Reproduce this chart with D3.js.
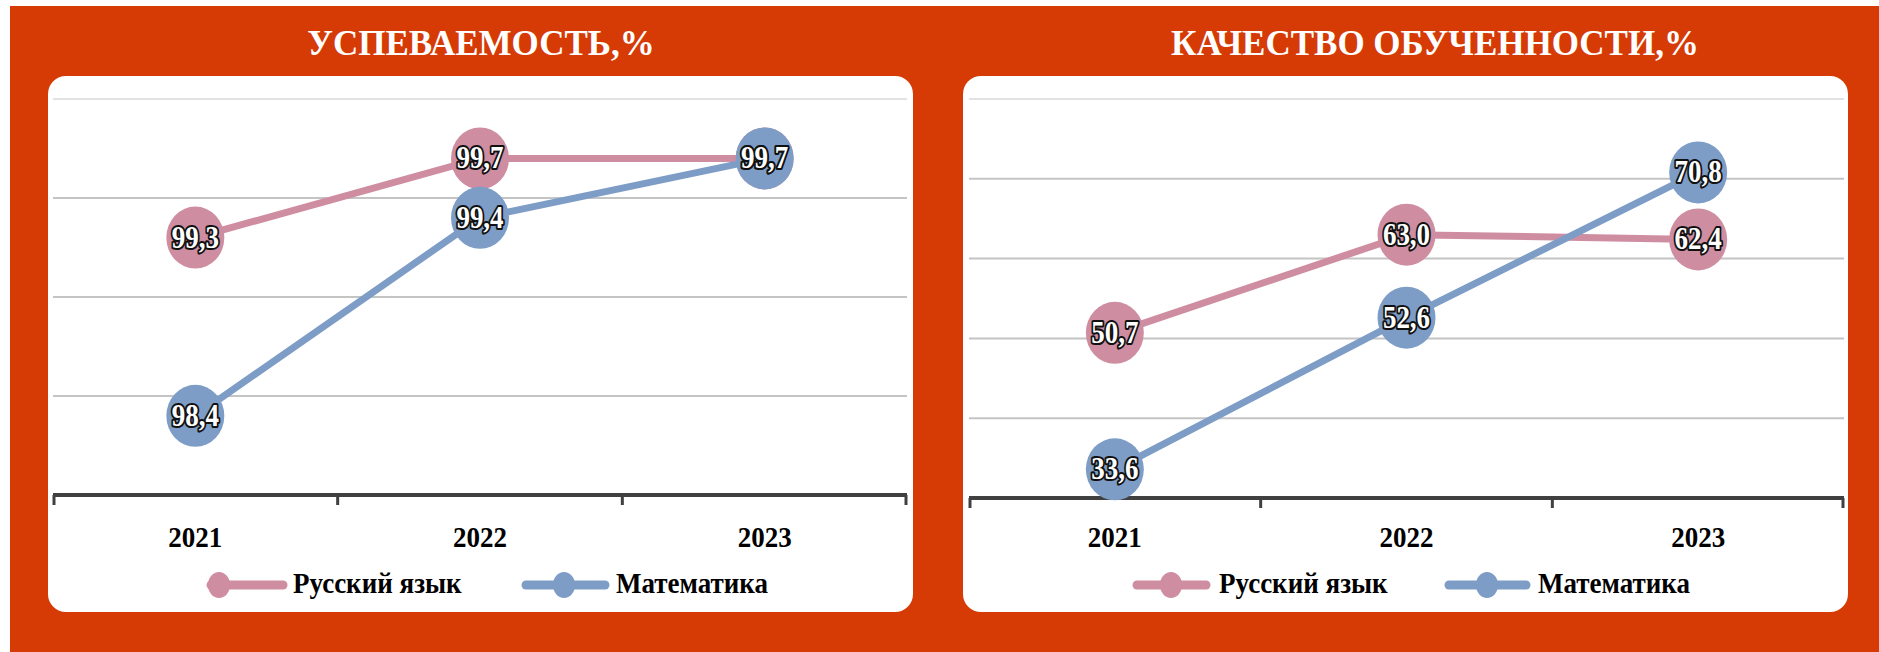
<!DOCTYPE html>
<html>
<head>
<meta charset="utf-8">
<title>Успеваемость и качество</title>
<script src="https://d3js.org/d3.v7.min.js"></script>
<style>
  body { margin: 0; background: #fff; }
  svg { display: block; }
</style>
</head>
<body>
<script>
// data
var years = ['2021', '2022', '2023']
var seriesNames = ['Русский язык', 'Математика']
var titles = ['УСПЕВАЕМОСТЬ,%', 'КАЧЕСТВО ОБУЧЕННОСТИ,%']
var uspRus = [99.3, 99.7, 99.7]
var uspMat = [98.4, 99.4, 99.7]
var kachRus = [50.7, 63.0, 62.4]
var kachMat = [33.6, 52.6, 70.8]
var uspTicks = [98, 98.5, 99, 99.5, 100]
var kachTicks = [30, 40, 50, 60, 70, 80]

var w = 1879
var h = 652
var red = '#d63a05'
var pink = '#cf8da2'
var blue = '#7d9dc6'
var serif = "'Liberation Serif', 'Times New Roman', serif"

var svg = d3.select('body').append('svg').attr('width', w).attr('height', h)

svg.append('rect').attr('x', 10).attr('y', 6).attr('width', w - 10).attr('height', h - 6).attr('fill', red)

var charts = [
  { title: titles[0], rus: uspRus, mat: uspMat, ticks: uspTicks,
    panel: [48, 76, 913, 612], plot: [53, 907], top: 99, bottom: 495, titleX: 481,
    leg: { l1: [207, 287], d1: 219, t1: 293, l2: [522, 609], d2: 564, t2: 616 } },
  { title: titles[1], rus: kachRus, mat: kachMat, ticks: kachTicks,
    panel: [963, 76, 1848, 612], plot: [969, 1844], top: 99, bottom: 498, titleX: 1435,
    leg: { l1: [1133, 1210], d1: 1171, t1: 1219, l2: [1445, 1530], d2: 1487, t2: 1538 } }
]

function fmt(v) {
  return d3.format('.1f')(v).replace('.', ',')
}

charts.forEach(function(c) {
  var g = svg.append('g')

  g.append('text')
    .text(c.title)
    .attr('x', c.titleX)
    .attr('y', 55)
    .attr('text-anchor', 'middle')
    .attr('font-family', serif)
    .attr('font-weight', 'bold')
    .attr('font-size', '35px')
    .attr('fill', '#fff')

  g.append('rect')
    .attr('x', c.panel[0]).attr('y', c.panel[1])
    .attr('width', c.panel[2] - c.panel[0]).attr('height', c.panel[3] - c.panel[1])
    .attr('rx', 18).attr('fill', '#fff')

  var xScale = d3.scaleBand().domain(years).range(c.plot)
  var yScale = d3.scaleLinear()
    .domain([c.ticks[0], c.ticks[c.ticks.length - 1]])
    .range([c.bottom, c.top])

  // gridlines
  g.selectAll('.grid')
    .data(c.ticks.slice(1))
    .enter()
    .append('line')
    .attr('x1', c.plot[0]).attr('x2', c.plot[1])
    .attr('y1', function(d) { return yScale(d) })
    .attr('y2', function(d) { return yScale(d) })
    .attr('stroke', function(d, i) { return i == c.ticks.length - 2 ? '#e2e2e2' : '#c4c4c4' })
    .attr('stroke-width', 2)

  // category axis, ticks sit between the bands
  g.append('line')
    .attr('x1', c.plot[0]).attr('x2', c.plot[1])
    .attr('y1', yScale(c.ticks[0])).attr('y2', yScale(c.ticks[0]))
    .attr('stroke', '#404040').attr('stroke-width', 4)

  var edges = years.map(function(y) { return xScale(y) }).concat([c.plot[1]])
  g.selectAll('.tick')
    .data(edges)
    .enter()
    .append('line')
    .attr('x1', function(d, i) { return i == 0 ? d + 1 : (i == edges.length - 1 ? d - 1 : d) })
    .attr('x2', function(d, i) { return i == 0 ? d + 1 : (i == edges.length - 1 ? d - 1 : d) })
    .attr('y1', yScale(c.ticks[0]))
    .attr('y2', yScale(c.ticks[0]) + 10)
    .attr('stroke', '#404040').attr('stroke-width', 3)

  g.selectAll('.xlab')
    .data(years)
    .enter()
    .append('text')
    .text(function(d) { return d })
    .attr('transform', function(d) {
      return 'translate(' + (xScale(d) + xScale.bandwidth() / 2) + ',547) scale(1,1.08)'
    })
    .attr('text-anchor', 'middle')
    .attr('font-family', serif)
    .attr('font-weight', 'bold')
    .attr('font-size', '27px')
    .attr('fill', '#000')

  var series = [{ vals: c.rus, color: pink }, { vals: c.mat, color: blue }]

  var line = d3.line()
    .x(function(d, i) { return xScale(years[i]) + xScale.bandwidth() / 2 })
    .y(function(d) { return yScale(d) })

  series.forEach(function(s) {
    g.append('path')
      .attr('d', line(s.vals))
      .attr('fill', 'none')
      .attr('stroke', s.color)
      .attr('stroke-width', 7)

    g.selectAll(null)
      .data(s.vals)
      .enter()
      .append('ellipse')
      .attr('cx', function(d, i) { return xScale(years[i]) + xScale.bandwidth() / 2 })
      .attr('cy', function(d) { return yScale(d) })
      .attr('rx', 29).attr('ry', 31)
      .attr('fill', s.color)
  })

  series.forEach(function(s) {
    g.selectAll(null)
      .data(s.vals)
      .enter()
      .append('text')
      .text(function(d) { return fmt(d) })
      .attr('transform', function(d, i) {
        return 'translate(' + (xScale(years[i]) + xScale.bandwidth() / 2) + ',' + (yScale(d) + 10) + ') scale(1,1.18)'
      })
      .attr('text-anchor', 'middle')
      .attr('font-family', serif)
      .attr('font-weight', 'bold')
      .attr('font-size', '27px')
      .attr('fill', '#fff')
      .attr('stroke', '#111')
      .attr('stroke-width', 3.5)
      .attr('stroke-linejoin', 'round')
      .attr('paint-order', 'stroke')
  })

  // legend
  var lg = [
    { line: c.leg.l1, dot: c.leg.d1, tx: c.leg.t1, color: pink, name: seriesNames[0] },
    { line: c.leg.l2, dot: c.leg.d2, tx: c.leg.t2, color: blue, name: seriesNames[1] }
  ]
  lg.forEach(function(l) {
    g.append('line')
      .attr('x1', l.line[0] + 4).attr('x2', l.line[1] - 4)
      .attr('y1', 585).attr('y2', 585)
      .attr('stroke', l.color).attr('stroke-width', 9)
      .attr('stroke-linecap', 'round')
    g.append('ellipse')
      .attr('cx', l.dot).attr('cy', 585)
      .attr('rx', 11).attr('ry', 13)
      .attr('fill', l.color)
    g.append('text')
      .text(l.name)
      .attr('transform', 'translate(' + l.tx + ',593) scale(1,1.08)')
      .attr('font-family', serif)
      .attr('font-weight', 'bold')
      .attr('font-size', '27px')
      .attr('fill', '#000')
  })
})
</script>
</body>
</html>
